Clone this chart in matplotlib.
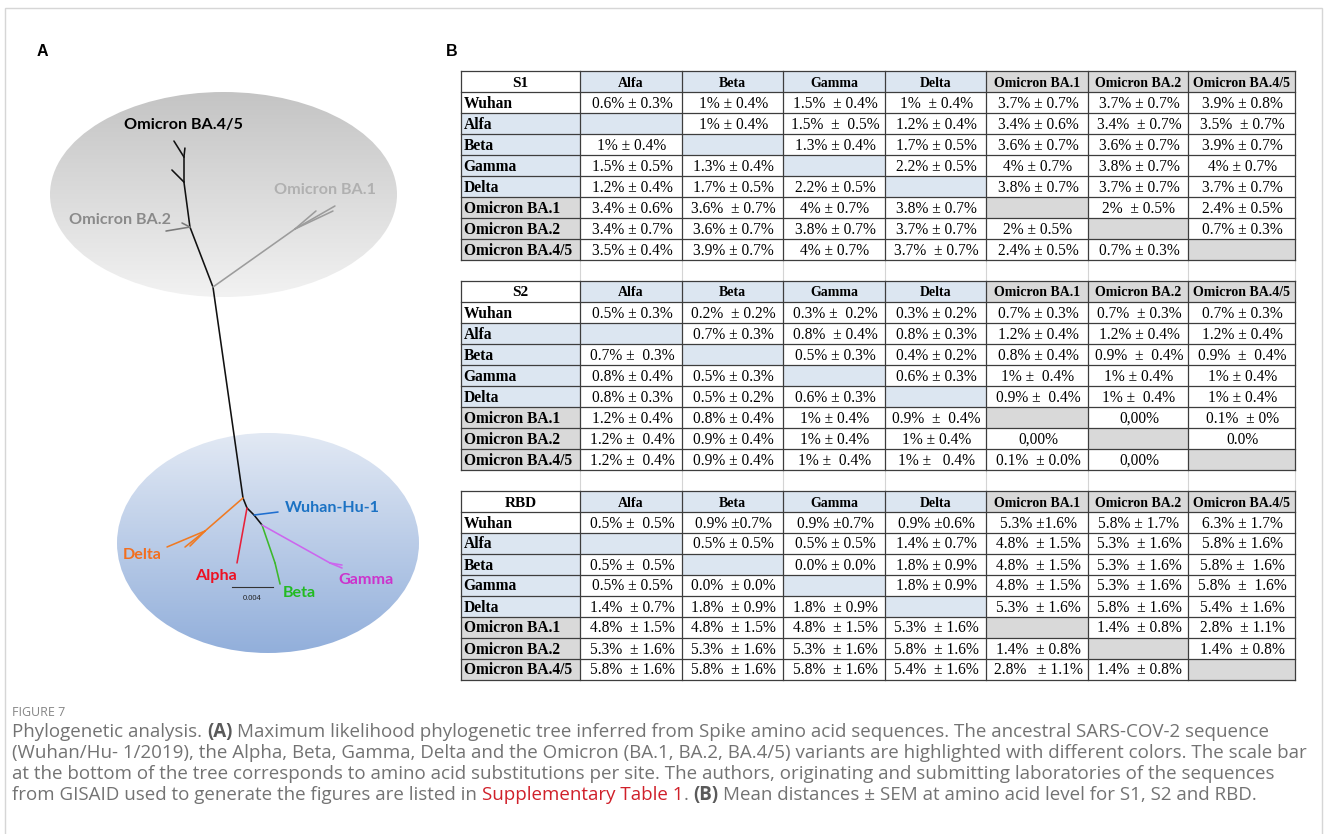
import numpy as np
import matplotlib
matplotlib.use("Agg")
import matplotlib.pyplot as plt
import matplotlib.colors as mcolors
from matplotlib.patches import Rectangle, Ellipse
from matplotlib.transforms import Affine2D

# ---------------------------------------------------------------- data
row_names = ["Wuhan", "Alfa", "Beta", "Gamma", "Delta",
             "Omicron BA.1", "Omicron BA.2", "Omicron BA.4/5"]
col_names = ["Alfa", "Beta", "Gamma", "Delta",
             "Omicron BA.1", "Omicron BA.2", "Omicron BA.4/5"]

s1_values = [
    ["0.6% ± 0.3%", "1% ± 0.4%", "1.5%  ± 0.4%", "1%  ± 0.4%", "3.7% ± 0.7%", "3.7% ± 0.7%", "3.9% ± 0.8%"],
    ["", "1% ± 0.4%", "1.5%  ±  0.5%", "1.2% ± 0.4%", "3.4% ± 0.6%", "3.4%  ± 0.7%", "3.5%  ± 0.7%"],
    ["1% ± 0.4%", "", "1.3% ± 0.4%", "1.7% ± 0.5%", "3.6% ± 0.7%", "3.6% ± 0.7%", "3.9% ± 0.7%"],
    ["1.5% ± 0.5%", "1.3% ± 0.4%", "", "2.2% ± 0.5%", "4% ± 0.7%", "3.8% ± 0.7%", "4% ± 0.7%"],
    ["1.2% ± 0.4%", "1.7% ± 0.5%", "2.2% ± 0.5%", "", "3.8% ± 0.7%", "3.7% ± 0.7%", "3.7% ± 0.7%"],
    ["3.4% ± 0.6%", "3.6%  ± 0.7%", "4% ± 0.7%", "3.8% ± 0.7%", "", "2%  ± 0.5%", "2.4% ± 0.5%"],
    ["3.4% ± 0.7%", "3.6% ± 0.7%", "3.8% ± 0.7%", "3.7% ± 0.7%", "2% ± 0.5%", "", "0.7% ± 0.3%"],
    ["3.5% ± 0.4%", "3.9% ± 0.7%", "4% ± 0.7%", "3.7%  ± 0.7%", "2.4% ± 0.5%", "0.7% ± 0.3%", ""],
]

s2_values = [
    ["0.5% ± 0.3%", "0.2%  ± 0.2%", "0.3% ±  0.2%", "0.3% ± 0.2%", "0.7% ± 0.3%", "0.7%  ± 0.3%", "0.7% ± 0.3%"],
    ["", "0.7% ± 0.3%", "0.8%  ± 0.4%", "0.8% ± 0.3%", "1.2% ± 0.4%", "1.2% ± 0.4%", "1.2% ± 0.4%"],
    ["0.7% ±  0.3%", "", "0.5% ± 0.3%", "0.4% ± 0.2%", "0.8% ± 0.4%", "0.9%  ±  0.4%", "0.9%  ±  0.4%"],
    ["0.8% ± 0.4%", "0.5% ± 0.3%", "", "0.6% ± 0.3%", "1% ±  0.4%", "1% ± 0.4%", "1% ± 0.4%"],
    ["0.8% ± 0.3%", "0.5% ± 0.2%", "0.6% ± 0.3%", "", "0.9% ±  0.4%", "1% ±  0.4%", "1% ± 0.4%"],
    ["1.2% ± 0.4%", "0.8% ± 0.4%", "1% ± 0.4%", "0.9%  ±  0.4%", "", "0,00%", "0.1%  ± 0%"],
    ["1.2% ±  0.4%", "0.9% ± 0.4%", "1% ± 0.4%", "1% ± 0.4%", "0,00%", "", "0.0%"],
    ["1.2% ±  0.4%", "0.9% ± 0.4%", "1% ±  0.4%", "1% ±   0.4%", "0.1%  ± 0.0%", "0,00%", ""],
]

rbd_values = [
    ["0.5% ±  0.5%", "0.9% ±0.7%", "0.9% ±0.7%", "0.9% ±0.6%", "5.3% ±1.6%", "5.8% ± 1.7%", "6.3% ± 1.7%"],
    ["", "0.5% ± 0.5%", "0.5% ± 0.5%", "1.4% ± 0.7%", "4.8%  ± 1.5%", "5.3%  ± 1.6%", "5.8% ± 1.6%"],
    ["0.5% ±  0.5%", "", "0.0% ± 0.0%", "1.8% ± 0.9%", "4.8%  ± 1.5%", "5.3%  ± 1.6%", "5.8% ±  1.6%"],
    ["0.5% ± 0.5%", "0.0%  ± 0.0%", "", "1.8% ± 0.9%", "4.8%  ± 1.5%", "5.3%  ± 1.6%", "5.8%  ±  1.6%"],
    ["1.4%  ± 0.7%", "1.8%  ± 0.9%", "1.8%  ± 0.9%", "", "5.3%  ± 1.6%", "5.8%  ± 1.6%", "5.4%  ± 1.6%"],
    ["4.8%  ± 1.5%", "4.8%  ± 1.5%", "4.8%  ± 1.5%", "5.3%  ± 1.6%", "", "1.4%  ± 0.8%", "2.8%  ± 1.1%"],
    ["5.3%  ± 1.6%", "5.3%  ± 1.6%", "5.3%  ± 1.6%", "5.8%  ± 1.6%", "1.4%  ± 0.8%", "", "1.4%  ± 0.8%"],
    ["5.8%  ± 1.6%", "5.8%  ± 1.6%", "5.8%  ± 1.6%", "5.4%  ± 1.6%", "2.8%   ± 1.1%", "1.4%  ± 0.8%", ""],
]

table_titles = ["S1", "S2", "RBD"]

# Phylogenetic tree: (parent, child, branch length [subst./site], direction [deg], colour)
BLACK, GREY_BA2, GREY_BA1 = "#111111", "#7a7a7a", "#9c9c9c"
ORANGE, RED, BLUE, GREEN, VIOLET = "#f07a22", "#e8203a", "#1f6fd0", "#3cb82a", "#cc66ee"
tree_branches = [
    ("root", "ba1_node", 0.02079, 98.1, BLACK),
    ("ba1_node", "ba2_node", 0.00627, 111.0, BLACK),
    ("ba2_node", "ba45_node", 0.00443, 97.6, BLACK),
    ("ba45_node", "ba45_top", 0.00244, 90.0, BLACK),
    ("ba45_top", "ba45_t1", 0.00088, 83.7, BLACK),
    ("ba45_top", "ba45_t2", 0.00184, 122.0, BLACK),
    ("ba45_node", "ba45_t3", 0.00166, 135.0, BLACK),
    ("ba2_node", "ba2_t1", 0.00237, 189.5, GREY_BA2),
    ("ba2_node", "ba2_t2", 0.00087, 153.0, GREY_BA2),
    ("ba1_node", "ba1_sub", 0.00980, 35.3, GREY_BA1),
    ("ba1_sub", "ba1_t1", 0.00270, 40.6, GREY_BA1),
    ("ba1_sub", "ba1_t2", 0.00450, 29.9, GREY_BA1),
    ("ba1_sub", "ba1_t3", 0.00410, 25.3, GREY_BA1),
    ("root", "alpha_node", 0.00105, -68.2, BLACK),
    ("alpha_node", "wuhan_node", 0.00097, -45.0, BLACK),
    ("wuhan_node", "bg_node", 0.00125, -51.3, BLACK),
    ("root", "delta_node", 0.00491, 221.0, ORANGE),
    ("delta_node", "delta_t1", 0.00402, 202.8, ORANGE),
    ("delta_node", "delta_t2", 0.00250, 218.7, ORANGE),
    ("delta_node", "delta_t3", 0.00207, 225.0, ORANGE),
    ("alpha_node", "alpha_t", 0.00545, 259.7, RED),
    ("wuhan_node", "wuhan_t", 0.00236, 7.1, BLUE),
    ("bg_node", "beta_node", 0.00392, -71.1, GREEN),
    ("beta_node", "beta_t", 0.00211, -76.6, GREEN),
    ("bg_node", "gamma_node", 0.00760, -29.2, VIOLET),
    ("gamma_node", "gamma_t1", 0.00127, -22.6, VIOLET),
    ("gamma_node", "gamma_t2", 0.00119, -9.5, VIOLET),
]
scale_bar_length = 0.004

# ---------------------------------------------------------------- canvas
W, H = 1328, 834
fig = plt.figure(figsize=(W / 100, H / 100), dpi=100)
fig.patch.set_facecolor("white")
ax = fig.add_axes([0, 0, 1, 1])
ax.set_xlim(0, W)
ax.set_ylim(H, 0)
ax.axis("off")

# page frame
frame_c = "#d6d6d6"
ax.plot([4.5, 4.5, 1321.5, 1321.5], [H, 7.5, 7.5, H], color=frame_c, lw=1.0,
        solid_joinstyle="miter")

SERIF = "Liberation Serif"
ARIAL = "Liberation Sans"
CALIBRI = ["Lato", "DejaVu Sans"]

# panel letters
ax.text(42, 55.5, "A", fontsize=11.5, fontweight="bold", family=ARIAL, ha="center", va="baseline")
ax.text(452, 55.5, "B", fontsize=11.5, fontweight="bold", family=ARIAL, ha="center", va="baseline")


# ---------------------------------------------------------------- panel A
def gradient_ellipse(cx, cy, w, h, top, bottom):
    e = Ellipse((cx, cy), w, h, facecolor="none", edgecolor="none")
    ax.add_patch(e)
    t = np.linspace(0, 1, 256)[:, None, None]
    c0 = np.array(mcolors.to_rgb(top))[None, None, :]
    c1 = np.array(mcolors.to_rgb(bottom))[None, None, :]
    img = c0 * (1 - t) + c1 * t
    im = ax.imshow(img, extent=(cx - w / 2, cx + w / 2, cy + h / 2, cy - h / 2),
                   origin="upper", aspect="auto", interpolation="bilinear", zorder=0)
    im.set_clip_path(e)


gradient_ellipse(223.5, 194.5, 347, 205, "#c4c4c4", "#f2f2f2")
gradient_ellipse(268, 543, 302, 220, "#e2e9f4", "#92afdb")
ax.set_xlim(0, W)
ax.set_ylim(H, 0)

# tree in substitution units, mapped to the canvas
PX_PER_UNIT = 10250.0
ROOT_PX = (243, 498)
tree_tf = Affine2D().scale(PX_PER_UNIT, -PX_PER_UNIT).translate(*ROOT_PX) + ax.transData

pos = {"root": (0.0, 0.0)}
for parent, child, length, ang, col in tree_branches:
    x0, y0 = pos[parent]
    a = np.deg2rad(ang)
    x1, y1 = x0 + length * np.cos(a), y0 + length * np.sin(a)
    pos[child] = (x1, y1)
    ax.plot([x0, x1], [y0, y1], color=col, lw=1.15, transform=tree_tf,
            solid_capstyle="round", zorder=3)

# scale bar
sb_x0, sb_y = 232, 587
ax.plot([sb_x0, sb_x0 + scale_bar_length * PX_PER_UNIT], [sb_y, sb_y], color="#333333", lw=0.8, zorder=3)
ax.text(sb_x0 + scale_bar_length * PX_PER_UNIT / 2, 599, f"{scale_bar_length:.3f}",
        fontsize=5.5, family=ARIAL, ha="center", va="center", color="#222222")

tree_labels = [
    ("Omicron BA.4/5", 183, 125, "#000000"),
    ("Omicron BA.2", 120, 220, "#8a8a8a"),
    ("Omicron BA.1", 325, 190, "#b0b0b0"),
    ("Wuhan-Hu-1", 332, 508, "#1b72c4"),
    ("Delta", 142, 555, "#f26f1f"),
    ("Alpha", 216, 576, "#ee1123"),
    ("Beta", 299, 593, "#22bb22"),
    ("Gamma", 366, 580, "#cc33cc"),
]
for txt, x, y, c in tree_labels:
    ax.text(x, y, txt, fontsize=11.6, fontweight="bold", family=CALIBRI, color=c,
            ha="center", va="center", zorder=4)

# ---------------------------------------------------------------- panel B
COL_EDGES = [461, 580, 682, 783, 885, 986, 1088, 1188, 1295]
ROW_H = 21
GRID_TOP = 71
CELL_BLUE = "#dce6f1"
CELL_GREY = "#d9d9d9"
LINE_C = "#3d3d3d"
FAINT_C = "#d4d4d4"


def group_fill(name):
    if name.startswith("Omicron"):
        return CELL_GREY
    if name == "Wuhan":
        return "white"
    return CELL_BLUE


def draw_table(top, title, values):
    nrow = len(values) + 1
    ncol = len(COL_EDGES) - 1
    for i in range(nrow):
        y0 = top + i * ROW_H
        for j in range(ncol):
            x0, x1 = COL_EDGES[j], COL_EDGES[j + 1]
            if i == 0:
                fc = "white" if j == 0 else group_fill(col_names[j - 1])
            elif j == 0:
                fc = group_fill(row_names[i - 1])
            else:
                fc = "white" if values[i - 1][j - 1] else group_fill(row_names[i - 1])
            ax.add_patch(Rectangle((x0, y0), x1 - x0, ROW_H, facecolor=fc,
                                   edgecolor="none", zorder=1))
            cx = (x0 + x1) / 2
            base = y0 + 15.5
            if i == 0:
                label = title if j == 0 else col_names[j - 1]
                fs = 11 if j == 0 else 10
                ax.text(cx, base, label, fontsize=fs, fontweight="bold", family=SERIF,
                        ha="center", va="baseline", zorder=3)
            elif j == 0:
                ax.text(x0 + 2.5, base, row_names[i - 1], fontsize=11.2, fontweight="bold",
                        family=SERIF, ha="left", va="baseline", zorder=3)
            else:
                ax.text(cx + 1, base, values[i - 1][j - 1], fontsize=11.2, family=SERIF,
                        ha="center", va="baseline", zorder=3)
    bottom = top + nrow * ROW_H
    for k in range(nrow + 1):
        y = top + k * ROW_H
        ax.plot([COL_EDGES[0], COL_EDGES[-1]], [y, y], color=LINE_C, lw=0.9, zorder=2,
                solid_capstyle="projecting")
    for x in COL_EDGES:
        ax.plot([x, x], [top, bottom], color=LINE_C, lw=0.9, zorder=2,
                solid_capstyle="projecting")
    return bottom


tops = [GRID_TOP + k * 10 * ROW_H for k in range(3)]
for top, title, vals in zip(tops, table_titles, [s1_values, s2_values, rbd_values]):
    bottom = draw_table(top, title, vals)
    if bottom < tops[-1]:
        # empty spreadsheet row between blocks
        for x in COL_EDGES[1:]:
            ax.plot([x, x], [bottom + 1, bottom + ROW_H - 1], color=FAINT_C, lw=0.8, zorder=0.5)

# ---------------------------------------------------------------- caption
CAP_FAMILY = ["Open Sans", "DejaVu Sans"]
CAP_WEIGHT = "normal"
CAP_C = "#737373"
renderer = fig.canvas.get_renderer()


def text_width(s, fs, weight=CAP_WEIGHT):
    t = ax.text(0, 0, s, fontsize=fs, family=CAP_FAMILY, fontweight=weight)
    w = t.get_window_extent(renderer=renderer).width
    t.remove()
    return w


line1 = [("Phylogenetic analysis.", CAP_C, CAP_WEIGHT), ("(A)", "#5a5a5a", "bold"),
         ("Maximum likelihood phylogenetic tree inferred from Spike amino acid sequences. The ancestral SARS-COV-2 sequence", CAP_C, CAP_WEIGHT)]
line2 = [("(Wuhan/Hu- 1/2019), the Alpha, Beta, Gamma, Delta and the Omicron (BA.1, BA.2, BA.4/5) variants are highlighted with different colors. The scale bar", CAP_C, CAP_WEIGHT)]
line3 = [("at the bottom of the tree corresponds to amino acid substitutions per site. The authors, originating and submitting laboratories of the sequences", CAP_C, CAP_WEIGHT)]
line4 = [("from GISAID used to generate the figures are listed in", CAP_C, CAP_WEIGHT),
         ("Supplementary Table 1", "#d0202a", CAP_WEIGHT),
         (".", CAP_C, CAP_WEIGHT, "nogap"),
         ("(B)", "#5a5a5a", "bold"),
         ("Mean distances ± SEM at amino acid level for S1, S2 and RBD.", CAP_C, CAP_WEIGHT)]

# size the caption so the first line spans the text block
ref_fs = 10.0
full1 = " ".join(r[0] for r in line1)
cap_fs = ref_fs * 1256.0 / text_width(full1, ref_fs)
space_w = text_width("a a", cap_fs) - text_width("aa", cap_fs)


def draw_runs(x, y, runs):
    first = True
    for run in runs:
        s, c, wgt = run[:3]
        if not first and not (len(run) > 3 and run[3] == "nogap"):
            x += space_w
        t = ax.text(x, y, s, fontsize=cap_fs, family=CAP_FAMILY, color=c, fontweight=wgt,
                    ha="left", va="baseline")
        x += t.get_window_extent(renderer=renderer).width
        first = False


ax.text(12, 715.5, "FIGURE 7", fontsize=9.0, family=CAP_FAMILY, color="#858585", va="baseline")
for k, runs in enumerate([line1, line2, line3, line4]):
    draw_runs(12, 737 + 21 * k, runs)

fig.savefig("out.png", dpi=100, facecolor="white")
